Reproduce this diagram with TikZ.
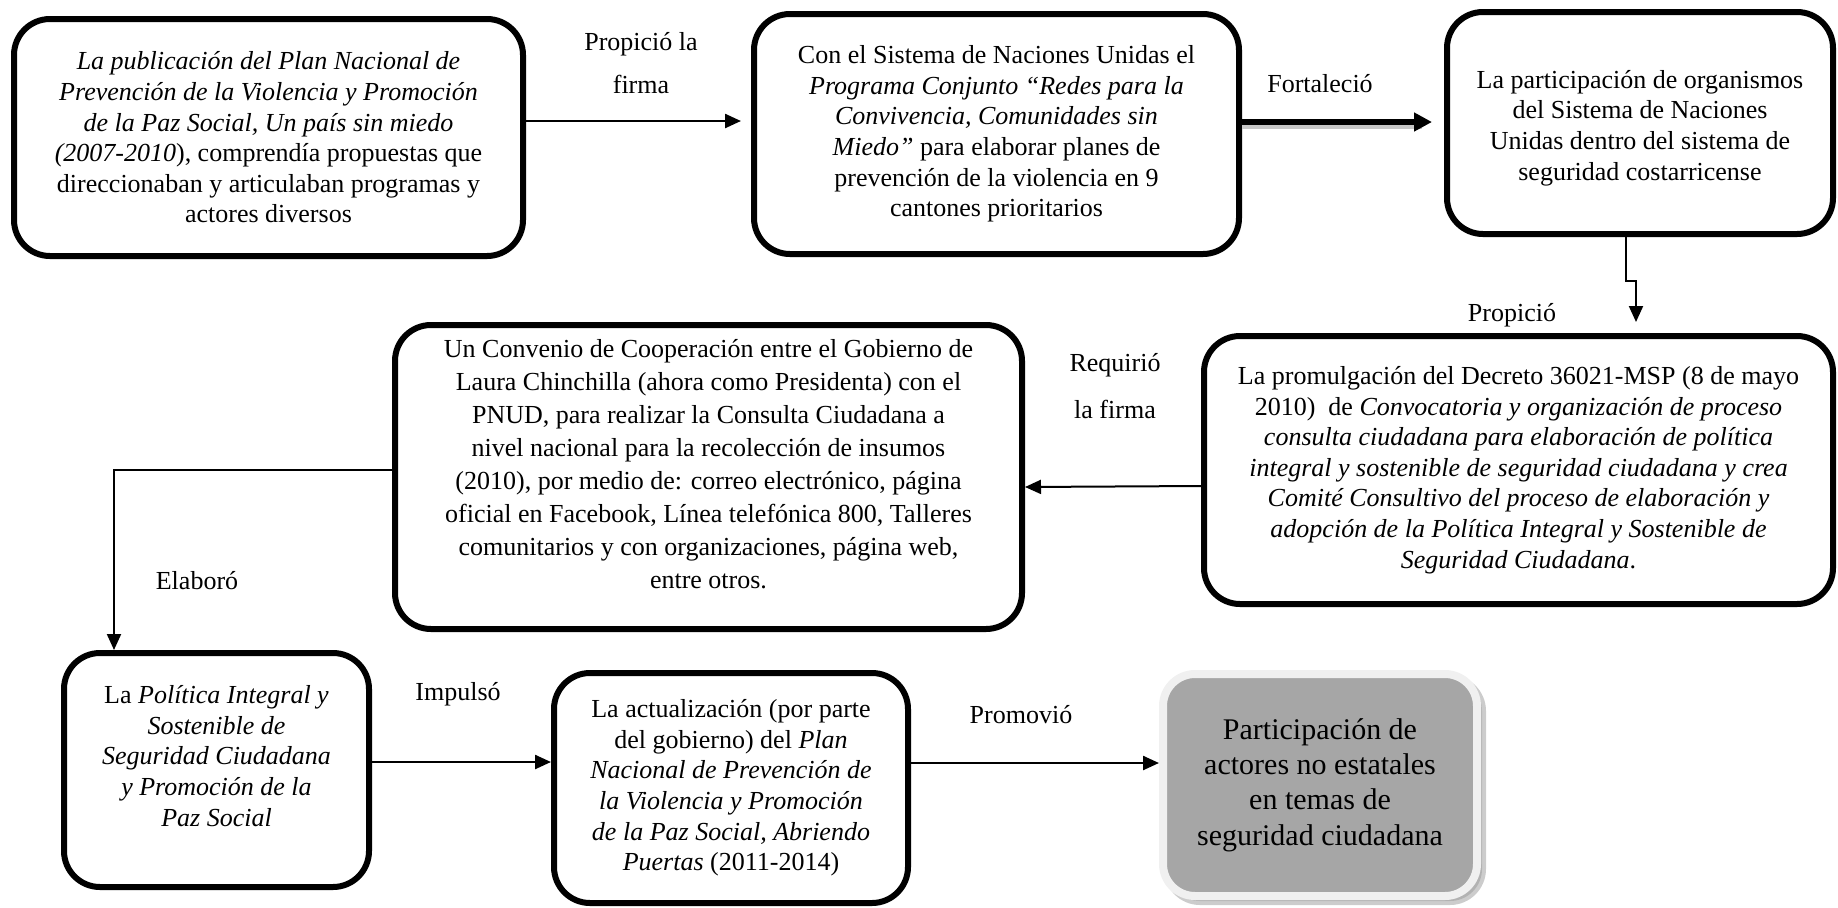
\documentclass[tikz,border=0pt]{standalone}
\usepackage{fontspec}
\setmainfont{Liberation Serif}
\usetikzlibrary{arrows.meta,shadows}
\definecolor{boxgrey}{HTML}{A6A6A6}
\definecolor{rimgrey}{HTML}{F0F0F0}
\newcommand{\txtsize}{\fontsize{13}{15.3}\selectfont}
\begin{document}
\begin{tikzpicture}[x=0.5pt,y=-0.5pt,
  box/.style={draw, line width=3pt, rounded corners=18pt, align=center, inner sep=0pt, font=\txtsize},
  txt/.style={align=center, inner sep=0pt, font=\txtsize},
  lab/.style={align=center, inner sep=0pt, font=\txtsize},
  arr/.style={line width=1.2pt, -{Triangle[length=8pt,width=7pt]}},
  thinarr/.style={line width=1pt, -{Triangle[length=8pt,width=7pt]}},
  thickarr/.style={line width=3pt, -{Triangle[length=9pt,width=9pt]}}]
\useasboundingbox (0,0) rectangle (1838,907);

% boxes
\node[box, minimum width=254.5pt, minimum height=118.5pt] (b1) at (268.5,137.5) {%
\textit{La publicación del Plan Nacional de}\\
\textit{Prevención de la Violencia y Promoción}\\
\textit{de la Paz Social, Un país sin miedo}\\
\textit{(2007-2010}), comprendía propuestas que\\
direccionaban y articulaban programas y\\
actores diversos};

\node[box, minimum width=242.5pt, minimum height=120pt] (b2) at (996.5,134) {%
Con el Sistema de Naciones Unidas el\\
\textit{Programa Conjunto “Redes para la}\\
\textit{Convivencia, Comunidades sin}\\
\textit{Miedo”} para elaborar planes de\\
prevención de la violencia en 9\\
cantones prioritarios};

\node[box, minimum width=193pt, minimum height=111pt] (b3) at (1640,123) {};
\node[txt] (t3) at (1640,128) {%
La participación de organismos\\
del Sistema de Naciones\\
Unidas dentro del sistema de\\
seguridad costarricense};

\node[box, minimum width=314.5pt, minimum height=134pt] (b5) at (1518.5,470) {%
La promulgación del Decreto 36021-MSP (8 de mayo\\
2010)\ \ de \textit{Convocatoria y organización de proceso}\\
\textit{consulta ciudadana para elaboración de política}\\
\textit{integral y sostenible de seguridad ciudadana y crea}\\
\textit{Comité Consultivo del proceso de elaboración y}\\
\textit{adopción de la Política Integral y Sostenible de}\\
\textit{Seguridad Ciudadana}.};

\node[box, minimum width=313.5pt, minimum height=152pt] (b4) at (708.5,477) {};
\node[txt, font=\fontsize{13}{16.5}\selectfont] (t4) at (708.5,464) {%
Un Convenio de Cooperación entre el Gobierno de\\
Laura Chinchilla (ahora como Presidenta) con el\\
PNUD, para realizar la Consulta Ciudadana a\\
nivel nacional para la recolección de insumos\\
(2010), por medio de: correo electrónico, página\\
oficial en Facebook, Línea telefónica 800, Talleres\\
comunitarios y con organizaciones, página web,\\
entre otros.};

\node[box, minimum width=152.5pt, minimum height=117pt] (b6) at (216.5,770) {};
\node[txt] (t6) at (216.5,756) {%
La \textit{Política Integral y}\\
\textit{Sostenible de}\\
\textit{Seguridad Ciudadana}\\
\textit{y Promoción de la}\\
\textit{Paz Social}};

\node[box, minimum width=177pt, minimum height=115pt] (b7) at (731,788) {%
La actualización (por parte\\
del gobierno) del \textit{Plan}\\
\textit{Nacional de Prevención de}\\
\textit{la Violencia y Promoción}\\
\textit{de la Paz Social, Abriendo}\\
\textit{Puertas} (2011-2014)};

\node[draw=rimgrey, fill=boxgrey, line width=4pt, rounded corners=16pt,
  minimum width=157pt, minimum height=111pt, inner sep=0pt, align=center,
  font=\fontsize{15}{17.6}\selectfont,
  drop shadow={shadow xshift=2.5pt, shadow yshift=-2.5pt, fill=black!40, draw=black!40, line width=4pt}] (b8) at (1320,785) {%
Participación de\\
actores no estatales\\
en temas de\\
seguridad ciudadana};

% labels
\node[lab, font=\fontsize{13}{21.5}\selectfont] (l1) at (641,63) {Propició la\\firma};
\node[lab] (l2) at (1320,84) {Fortaleció};
\node[lab] (l3) at (1512,315) {Propició};
\node[lab, font=\fontsize{13}{23.5}\selectfont] (l4) at (1115,386) {Requirió\\la firma};
\node[lab] (l5) at (197,581) {Elaboró};
\node[lab] (l6) at (458,694) {Impulsó};
\node[lab] (l7) at (1021,715) {Promovió};

% connector coordinates
\coordinate (e1) at (741,121);
\coordinate (e2) at (1432,122);
\coordinate (j1) at (1626,281);
\coordinate (j2) at (1636,281);
\coordinate (e3) at (1636,322);
\coordinate (k1) at (114,470);

% connectors
\draw[arr] (b1.east |- e1) -- (e1);
\draw[line width=3pt, black!22, shorten >=5pt] ([yshift=-2pt]b2.east |- e2) -- ([yshift=-2pt]e2);
\draw[thickarr] (b2.east |- e2) -- (e2);
\draw[thinarr] (b3.south -| j1) -- (j1) -- (j2) -- (e3);
\draw[thinarr] (b5.west |- 0,486) -- (b4.east |- 0,487);
\draw[thinarr] (b4.west |- k1) -- (k1) -- (b6.north -| k1);
\draw[arr] (b6.east |- 0,762) -- (b7.west |- 0,762);
\draw[arr] (b7.east |- 0,763) -- (b8.west |- 0,763);
\end{tikzpicture}
\end{document}
